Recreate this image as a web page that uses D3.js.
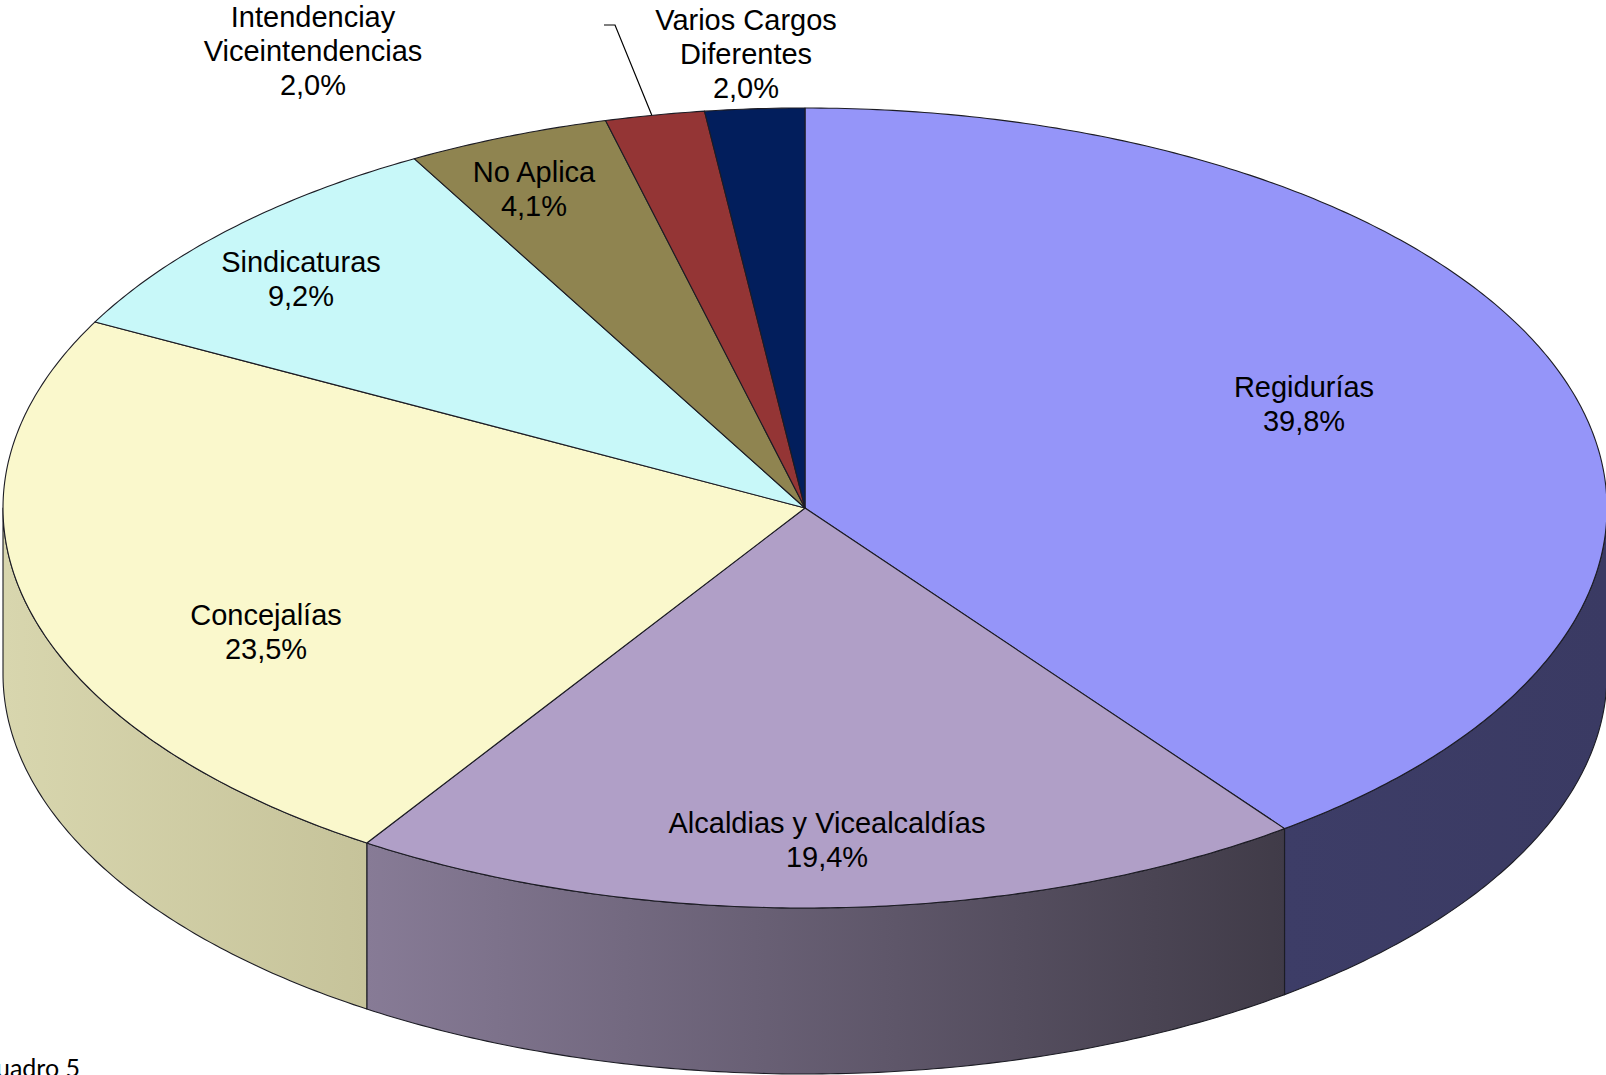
<!DOCTYPE html>
<html>
<head>
<meta charset="utf-8">
<script src="https://cdn.jsdelivr.net/npm/d3@7"></script>
<style>
html,body{margin:0;padding:0;background:#fff;overflow:hidden;}
svg{display:block;}
</style>
</head>
<body>
<svg id="chart" width="1606" height="1075"></svg>
<script>
// ---- data ----
const categories = ["Regidurías", "Alcaldias y Vicealcaldías", "Concejalías", "Sindicaturas", "No Aplica", "Varios Cargos Diferentes", "Intendenciay Viceintendencias"];
const labelLines = [["Regidurías"], ["Alcaldias y Vicealcaldías"], ["Concejalías"], ["Sindicaturas"], ["No Aplica"], ["Varios Cargos", "Diferentes"], ["Intendenciay", "Viceintendencias"]];
const values = [39.8, 19.4, 23.5, 9.2, 4.1, 2.0, 2.0];
const captionText = "Cuadro 5";

// ---- style / layout ----
const topColors = ["#9595F9", "#B09FC7", "#FAF8CC", "#C8F8F9", "#8F8450", "#943535", "#021E5C"];
const sideColors = [["#3D3D67", "#3A3A63"], ["#877B96", "#403B48"], ["#D8D6AE", "#C6C39A"], ["#A0C6C7", "#A0C6C7"], ["#726A40", "#726A40"], ["#762A2A", "#762A2A"], ["#01184A", "#01184A"]];
const labelAnchors = [[1304, 387], [827, 823], [266, 615], [301, 262], [534, 172], [746, 20], [313, 17]];
const lineGap = 33.6;
const cx = 805, cy = 508, rx = 802, ry = 400, depth = 166;

const svg = d3.select("#chart");
const defs = svg.append("defs");

const pie = d3.pie().sort(null).value(d => d).startAngle(0).endAngle(2 * Math.PI);
const arcs = pie(values);

const px = a => cx + rx * Math.sin(a);
const py = a => cy - ry * Math.cos(a);

function arcPoints(a0, a1, dy) {
  const n = Math.max(2, Math.ceil(Math.abs(a1 - a0) / 0.01));
  return d3.range(n + 1).map(i => {
    const a = a0 + (a1 - a0) * i / n;
    return [px(a), py(a) + dy];
  });
}
const line = d3.line();

// ---- sides (front half: angles between PI/2 and 3PI/2) ----
const gSide = svg.append("g");
arcs.forEach((d, i) => {
  const a0 = Math.max(d.startAngle, Math.PI / 2);
  const a1 = Math.min(d.endAngle, 3 * Math.PI / 2);
  if (a1 <= a0) return;
  const topEdge = arcPoints(a0, a1, 0);
  const botEdge = arcPoints(a1, a0, depth);
  const pts = topEdge.concat(botEdge);
  const xs = pts.map(p => p[0]);
  const gid = "side" + i;
  const grad = defs.append("linearGradient").attr("id", gid)
    .attr("gradientUnits", "userSpaceOnUse")
    .attr("x1", d3.min(xs)).attr("x2", d3.max(xs)).attr("y1", 0).attr("y2", 0);
  grad.append("stop").attr("offset", 0).attr("stop-color", sideColors[i][0]);
  grad.append("stop").attr("offset", 1).attr("stop-color", sideColors[i][1]);
  gSide.append("path")
    .attr("d", line(pts) + "Z")
    .attr("fill", `url(#${gid})`)
    .attr("stroke", "#1c1c24")
    .attr("stroke-width", 1.1)
    .attr("stroke-linejoin", "round");
});

// ---- top faces ----
const gTop = svg.append("g");
arcs.forEach((d, i) => {
  const pts = [[cx, cy]].concat(arcPoints(d.startAngle, d.endAngle, 0));
  gTop.append("path")
    .attr("d", line(pts) + "Z")
    .attr("fill", topColors[i])
    .attr("stroke", "#1c1c24")
    .attr("stroke-width", 1.1)
    .attr("stroke-linejoin", "round");
});

// ---- labels ----
const fmt = v => d3.format(".1f")(v).replace(".", ",") + "%";
const gLab = svg.append("g")
  .attr("font-family", "'Liberation Sans', Arial, sans-serif")
  .attr("font-size", 29)
  .attr("fill", "#000")
  .attr("text-anchor", "middle");
arcs.forEach((d, i) => {
  const [lx, ly] = labelAnchors[i];
  const lines = labelLines[i].concat([fmt(values[i])]);
  const t = gLab.append("text").attr("x", lx).attr("y", ly);
  lines.forEach((s, k) => {
    t.append("tspan").attr("x", lx).attr("y", ly + k * lineGap).attr("dy", "0.36em").text(s);
  });
});

// leader line for "Varios Cargos Diferentes" (red slice) – drawn to the slice's mid-angle rim point
{
  const d = arcs[5];
  const mid = (d.startAngle + d.endAngle) / 2;
  const tx = px(mid), ty = py(mid);
  svg.append("path")
    .attr("d", line([[604, 25], [615, 25], [tx - 3, ty]]))
    .attr("fill", "none")
    .attr("stroke", "#000")
    .attr("stroke-width", 1.2);
}

// caption
svg.append("text")
  .attr("x", 80).attr("y", 1077)
  .attr("text-anchor", "end")
  .attr("font-family", "Lato, 'Open Sans', sans-serif")
  .attr("font-size", 25)
  .attr("fill", "#000")
  .text(captionText);
</script>
</body>
</html>
